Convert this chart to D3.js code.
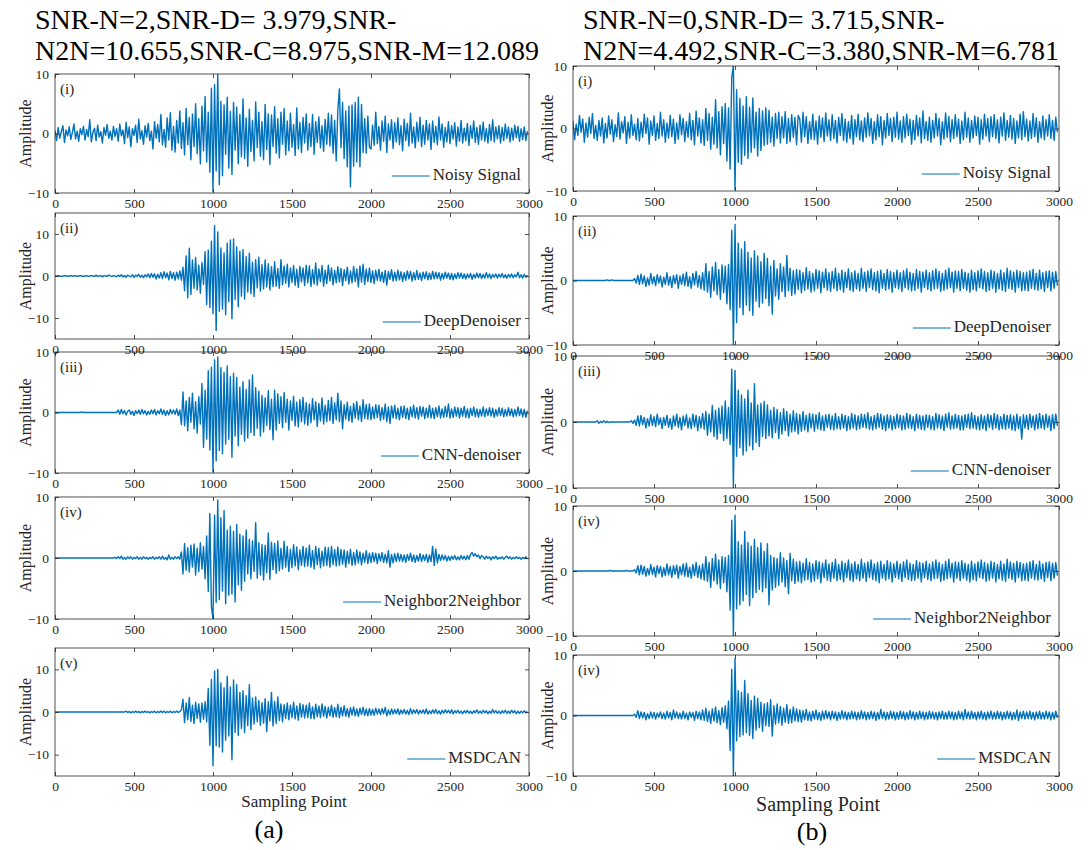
<!DOCTYPE html>
<html><head><meta charset="utf-8">
<script src="https://cdn.jsdelivr.net/npm/d3@7"></script>
<style>
body{margin:0;background:#fff}
svg{display:block}
text{font-family:"Liberation Serif","Times New Roman",serif;fill:#262626}
</style>
</head><body><svg id="c" width="1088" height="850"></svg>
<script>
// ---------------- DATA ----------------
const sampleStep = 10;
const xTicks = [0,500,1000,1500,2000,2500,3000];
const yTicks = [-10,0,10];
const titleA = ["SNR-N=2,SNR-D= 3.979,SNR-","N2N=10.655,SNR-C=8.975,SNR-M=12.089"];
const titleB = ["SNR-N=0,SNR-D= 3.715,SNR-","N2N=4.492,SNR-C=3.380,SNR-M=6.781"];
const panelLabelsA = ["(i)","(ii)","(iii)","(iv)","(v)"];
const panelLabelsB = ["(i)","(ii)","(iii)","(iv)","(iv)"];
const legendNames = ["Noisy Signal","DeepDenoiser","CNN-denoiser","Neighbor2Neighbor","MSDCAN"];
const yDomainsA = [[-10,10],[-15,15],[-10,10],[-10,10],[-15,15]];
const yDomainsB = [[-10,10],[-10,10],[-10,10],[-10,10],[-10,10]];
const xLabel = "Sampling Point";
const yLabel = "Amplitude";
const colLabels = ["(a)","(b)"];

const noisyA = [
0.5,-1.2,1,-0.8,0.3,1.3,-1.5,0.6,-0.4,1.1,-1,0.2,1.6,-0.9,0.4,-1.3,0.8,-0.2,1.2,-1.1,
0.7,-0.5,2.3,-1.4,0.2,0.9,-1.2,1.4,-0.6,0.3,-1.6,1,-0.3,1.5,-0.8,0.4,-1.1,1.2,-0.5,0.8,
-1.3,1.6,-0.4,0.6,-1.7,1.9,-0.7,1.1,-2.2,0.8,-0.3,1.4,-1.5,2.4,-0.9,0.5,-1.8,1.3,-0.6,1.7,
-1.2,0.4,-2.6,2,-0.8,1.5,-1.4,3.2,-1.9,0.7,-2.3,2.6,-1.1,3.5,-2.8,1.2,-3.1,2.2,-1.6,3.8,
-2.5,1.8,-3.6,4.2,-1.9,2.7,-4.4,3.3,-2.2,5,-3.4,2.5,-5.1,4.6,-2.9,6.2,-4.8,3.6,-6.5,7.6,
-9.8,8.2,-6.3,10,-8.6,5.4,-7.1,4.8,-3.5,6.1,-5.8,3.7,-6.9,5.2,-2.8,4.4,-5.1,3.2,-3.9,5.8,
-4.2,2.6,-5.5,4.1,-3,2.2,-4.6,5.3,-2.4,3.6,-3.8,2,-4.4,4.9,-2.7,3.3,-5.2,3.1,-2.2,4.5,
-3.3,2.5,-4.1,3.6,-1.8,4.2,-3.6,2.1,-2.9,3.4,-2.3,1.5,-3.7,4.3,-2.6,1.9,-3.2,2.7,-1.6,3.3,
-2.8,1.7,-2.2,3.2,-3.5,2,-1.5,2.8,-2.4,1.3,-3,2.4,-1.8,3.4,-2.1,3.1,-3.3,2.2,-4.6,3.9,
7.5,-2.4,5.2,-4.2,3.8,-5.6,4.6,-9,4.8,-5.5,5.2,-4.8,6.1,-5.6,4.9,-3.2,2.5,-3.3,2.9,-2.3,
-2.6,1.4,-2,3.6,-1.7,1.2,-2.8,2.1,-1.3,2.9,-3.2,1.6,-1.1,2.3,-2.5,1.8,-1.4,2.6,-1.9,1.3,
-2.9,2.4,-1.2,1.7,-2.1,3.4,-1.6,1.1,-2.4,1.9,-1.3,2.7,-2.2,1.4,-1.8,2.2,-1.1,1.6,-2.7,2.1,
-1.5,1.2,-1.9,2.8,-1.1,1.6,-2.3,1,-1.4,2,-1.7,1.3,-0.9,1.8,-2.1,1.1,-1.3,2.2,-1.6,0.9,
-1.2,1.7,-2,1.3,-0.8,2.1,-1.5,1,-1.8,1.4,-1.1,1.9,-1.3,0.8,-1.6,1.5,-1.2,2.3,-1.4,1.1,
-0.9,1.3,-1.6,1,-1.2,1.6,-0.8,1.1,-1.4,0.9,-1.1,1.4,-0.7,1.2,-1.3,0.8,-1,1.1,-1.2,0.4];

const deepA = [
0,0,0.1,0,-0.1,0,0.1,0,0,-0.1,0.1,0,0,0.1,-0.1,0,0.1,0,-0.1,0,
0.1,-0.1,0,0.1,0,-0.1,0.2,-0.1,0,0.1,-0.2,0.1,0,-0.1,0.2,0,-0.1,0.1,0,-0.2,
0.2,-0.1,0.3,-0.2,0.1,-0.3,0.2,0,-0.2,0.3,-0.3,0.2,-0.1,0.4,-0.3,0.2,-0.4,0.3,-0.2,0.5,
-0.4,0.6,-0.3,0.5,-0.7,0.4,-0.5,0.8,-0.6,1,-0.4,0.7,-0.9,1.1,-0.6,0.8,-1,0.9,-0.7,1.2,
-1,2.1,-3.5,4.8,-5.2,6.6,-4.4,3.8,-2.9,4.4,-3.3,2.6,-4.1,3.2,-2,5.8,-6.8,6.2,-7.5,8.3,
-9,12,-13,10.5,-8.4,6.7,-7.9,5.5,-9.2,7.8,-6.1,8.6,-10.2,8.8,-5.6,6.9,-7.3,5.9,-4.8,6.3,
-5.5,4.6,-3.8,5.4,-4.2,3.3,-4.9,3.9,-2.8,4.5,-3.6,2.7,-3.1,3.8,-2.6,2.9,-3.3,2.2,-2.5,3.4,
-2.4,1.8,-2.9,3.9,-2.1,2.4,-1.7,2.8,-2.6,1.9,-1.5,2.5,-2.2,1.6,-2.7,2.3,-1.4,1.9,-2.3,2.6,
-1.6,2.4,-2.5,1.5,-1.9,3.1,-2.2,1.7,-1.3,2.5,-2.4,1.4,-1.8,2.6,-1.2,1.9,-2.1,1.3,-1.6,2.2,
-1.4,1.8,-2.3,1.5,-1.1,2.1,-1.9,1.2,-1.6,2.3,-1.3,1.7,-2.6,2.4,-1.5,2.8,-2,1.6,-1.3,1.9,
-1.5,1.2,-1.8,1.4,-1,1.6,-1.2,0.9,-1.5,1.3,-2.2,1.1,-0.8,1.5,-1.2,0.9,-1.1,1.4,-0.9,1,
-1.3,0.8,-1,1.2,-0.7,1.1,-1.2,0.8,-0.9,1.3,-0.8,0.7,-1.1,0.9,-0.6,1,-0.9,0.7,-0.8,1.1,
-0.7,0.9,-0.6,0.8,-1,0.6,-0.7,0.9,-0.5,0.7,-0.8,0.6,-0.9,0.5,-0.6,0.8,-0.5,0.7,-0.6,0.5,
-0.7,0.5,-0.4,0.6,-0.8,0.4,-0.5,0.7,-0.4,0.6,-0.6,0.4,-0.5,0.8,-0.4,0.5,-0.6,0.4,-0.3,0.5,
-0.5,0.4,-0.3,0.6,-0.4,0.3,-0.5,0.4,-0.3,0.5,-0.4,0.3,-0.2,0.9,-0.4,0.3,-0.5,0.4,-0.3,0.2];

const cnnA = [
0,0,0,0,0,0,0,0,0,0,0,0,0,0,0,0,0,0.1,0,0,
0,0,0,0,0,0,0,0,0,0,0,0,0,0,0,0,0,0,0,0,
0.4,-0.3,0.5,-0.2,0.3,-0.4,0.2,0.4,-0.3,0.2,-0.5,0.3,-0.2,0.4,-0.3,0.5,-0.2,0.3,-0.4,0.2,
-0.3,0.4,-0.2,0.5,-0.4,0.3,-0.2,0.6,-0.3,0.4,-0.5,0.3,-0.4,0.5,-0.2,0.4,-0.3,0.6,-0.5,0.4,
-2,3.4,-2.2,1.9,-3,2.5,-1.6,3.2,-2.7,1.8,-3.4,2.6,-1.9,4.8,-5.8,3.7,-4.4,6.9,-6.2,7.5,
-9.8,8.7,-8,9.2,-6.3,7.4,-6.8,6.6,-5.2,7.7,-4.4,5.9,-7.4,6.5,-3.9,5.8,-5.5,4.2,-3.6,5.1,
-4.7,3.8,-4.2,5.4,-3.3,6.2,-3.8,4.1,-2.6,3.5,-3.9,2.8,-3.2,2.4,-2.1,3.6,-2.8,2.2,-4.5,3.7,
-2.9,3.1,-1.8,2.6,-2.5,3.3,-1.6,2.2,-2.9,1.9,-1.3,2.7,-2.2,1.7,-2.4,2.1,-1.5,2.5,-1.9,1.6,
-2.1,1.4,-1.7,2.3,-1.2,1.8,-2.3,1.5,-1.4,2.4,-1.9,1.2,-1.5,2,-1.3,2.5,-1.8,1.6,-1.2,3.2,
-1.5,1.9,-2.7,1.3,-1.1,1.7,-1.4,1,-1.6,1.5,-0.9,1.8,-1.2,1.1,-1.5,2.1,-1,1.3,-1.1,1.4,
-1.2,0.9,-1,1.3,-0.8,1.2,-1.3,0.8,-1.1,1.4,-1.5,0.9,-1.8,1.1,-0.9,1.2,-1,0.7,-1.2,1,
-0.8,1.1,-1,0.7,-1.2,0.9,-0.7,1.2,-0.9,0.8,-1.1,1,-0.6,0.9,-1,0.7,-0.8,1.2,-0.9,0.7,
-1,0.8,-0.7,1.1,-0.9,0.6,-0.8,1,-0.7,1.4,-0.9,0.6,-0.8,0.9,-0.6,0.8,-0.9,0.7,-0.6,1,
-0.8,0.6,-0.9,0.7,-0.5,0.9,-0.7,0.6,-0.8,0.5,-0.6,0.9,-0.7,0.6,-0.5,0.8,-0.6,0.7,-0.8,0.5,
-0.6,0.8,-0.5,0.7,-0.7,0.5,-0.6,0.8,-0.5,0.6,-0.7,0.5,-0.6,0.9,-0.5,0.6,-0.7,0.5,-0.8,0.3];

const n2nA = [
0,0,0,0,0,0,0,0,0,0,0,0,0,0,0,0,0,0,0,0,
0,0,0,0,0,0,0,0,0,0,0,0,0,0,0,0,0,0,0.1,-0.1,
0.2,-0.1,0.3,-0.2,0.1,-0.2,0.2,-0.1,0.2,-0.2,0.1,-0.1,0.2,-0.2,0.1,-0.2,0.2,-0.1,0.1,-0.2,
0.1,-0.1,0.2,-0.2,0.1,-0.1,0.2,-0.2,0.3,-0.2,0.1,-0.3,0.5,-0.2,0.1,-0.2,0.2,-0.1,0.2,-0.2,
1,-2.6,2.4,-2,1.7,-2.3,2.1,-1.5,2.3,-2.8,1.6,-2.2,2.5,-1.8,1.9,-3.4,3.6,-5.5,7.3,-8,
-10,7,-7.3,9.5,-6.8,6.6,-5.4,7.8,-7.5,4.6,-6.1,5.2,-5.9,4.4,-7.2,5.5,-4.4,3.9,-5.3,3.6,
-3.8,4.6,-2.6,3.1,-3.4,2.8,-2.2,5.8,-3.3,2.5,-2.8,2.2,-3.6,2.1,-2.4,4.1,-3.5,2.6,-1.9,2.4,
-2.5,2.8,-2.1,1.6,-1.8,2.7,-1.5,1.9,-2.2,1.4,-1.6,2.2,-1.3,1.8,-1.9,1.3,-1.2,1.9,-1.4,1.6,
-1.3,2.1,-1.5,1.2,-1.8,1.9,-1.1,1.6,-1.6,1.1,-1.3,1.8,-1.2,1.7,-1.5,1.9,-1.1,1.4,-1.3,1.8,
-1.2,1.4,-1,1.3,-1.5,1.1,-0.9,1.4,-1.2,0.9,-1.1,1.3,-0.8,1,-1.1,0.8,-0.7,1.2,-0.9,0.8,
-0.7,0.9,-0.6,0.8,-0.9,0.7,-0.5,0.9,-0.7,0.6,-0.8,1.2,-1.5,0.6,-0.8,0.7,-0.6,0.8,-0.5,0.6,
-0.6,0.5,-0.7,0.6,-0.4,0.8,-0.6,0.5,-0.7,0.4,-0.5,0.7,-0.6,0.5,-0.4,0.6,-0.7,0.5,-0.6,1.9,
-1.2,1.5,-0.8,0.6,-0.4,0.5,-0.3,0.4,-0.5,0.3,-0.4,0.3,-0.2,0.4,-0.3,0.2,-0.3,0.4,-0.2,0.3,
-0.3,0.4,-0.2,0.6,0.9,0.3,0.7,0.2,0.5,-0.1,0.4,0.2,-0.2,0.3,-0.1,0.2,-0.3,0.2,-0.1,0.3,
-0.2,0.1,-0.1,0.2,-0.2,0.1,0.3,-0.1,0.2,-0.2,0.1,-0.1,0.2,-0.1,0.1,-0.2,0.1,-0.1,0.2,-0.2];

const msdcanA = [
0,0,0,0,0,0,0,0,0,0,0,0,0,0,0,0,0,0,0,0,
0,0,0,0,0,0,0,0,0,0,0,0,0,0,0,0,0,0,0,0,
0,0,0,0,0,0.2,-0.1,0.1,-0.2,0.1,-0.1,0.2,-0.1,0.1,-0.2,0.1,-0.1,0.2,-0.1,0.1,
-0.2,0.1,-0.1,0.2,-0.2,0.1,-0.1,0.2,-0.1,0.2,-0.2,0.1,-0.1,0.2,-0.2,0.1,-0.1,0.2,-0.1,0.1,
0.5,3,-2.5,2.1,-1.8,3.4,-2.2,1.6,-2.7,2.3,-1.5,1.9,-2.4,2.1,-1.7,2.4,-2.3,5.5,-7.8,7.6,
-12.6,9.6,-7.9,10,-8.2,6.8,-9.4,5.7,-6.6,8.4,-5.6,5.9,-11.2,7.5,-4.8,6.4,-5.5,4.6,-3.9,5,
-4.8,3.8,-3.2,6.4,-4.1,3.3,-2.8,3.5,-2.3,2.7,-3.1,2.2,-2.6,3.1,-4.6,2.4,-2.1,4.6,-3.3,2.5,
-2.7,3.5,-2,1.9,-2.3,1.7,-1.5,2.1,-1.8,1.6,-1.3,2.3,-1.6,1.4,-1.9,2,-1.2,1.7,-1.4,1.6,
-1.3,2.1,-1.5,1.2,-1.6,1.8,-1.1,1.4,-1.3,1.9,-1,1.3,-1.4,1.1,-0.9,1.6,-1.2,1,-1.1,1.8,
-1.3,1.1,-0.9,1.5,-1,0.8,-1.2,1,-0.7,1.2,-0.9,0.7,-1,0.9,-0.6,1.1,-0.8,0.7,-0.9,0.8,
-0.7,0.6,-0.8,0.9,-0.5,0.7,-0.6,0.8,-0.4,1.1,-0.9,0.5,-0.6,0.7,-0.5,0.6,-0.4,0.7,-0.6,0.5,
-0.4,0.6,-0.5,0.4,-0.6,0.8,-0.4,0.5,-0.3,0.6,-0.5,0.4,-0.3,0.5,-0.4,0.7,-0.5,0.3,-0.4,0.5,
-0.3,0.6,-0.4,0.3,-0.5,0.4,-0.3,0.5,-0.2,0.4,-0.3,0.5,-0.4,0.3,-0.2,0.4,-0.3,0.2,-0.4,0.3,
-0.2,0.4,-0.3,0.2,-0.4,0.3,-0.2,0.5,-0.3,0.2,-0.3,0.4,-0.2,0.3,-0.4,0.2,-0.3,0.6,-0.2,0.3,
-0.3,0.2,-0.4,0.3,-0.2,0.4,-0.3,0.2,-0.3,0.4,-0.2,0.3,-0.4,0.2,-0.3,0.2,-0.2,0.3,-0.2,0.1];

const noisyB = [
1.2,-1.8,0.7,-1.1,2.1,-0.6,1.5,-2.2,0.9,-1.4,1.8,-0.8,2.4,-1.6,0.5,-1.9,1.3,-1.2,1.7,-2.3,
0.8,-1.5,2,-0.9,1.4,-2.1,0.6,-1.3,2.5,-1.7,1.1,-0.7,1.9,-2.4,1,-1.5,2.2,-1.1,0.7,-1.8,
1.6,-2,1,-1.4,2.3,-0.8,1.7,-2.5,1.2,-1.1,2,-1.9,0.8,-1.6,2.6,-1.2,1.4,-2.2,0.9,-1.5,
2.1,-1.3,1.5,-2.4,0.9,-1.7,2.2,-1,1.6,-2.1,1.1,-1.4,2.4,-1.8,1.3,-2.6,2.8,-1.2,1.7,-2.3,
1.4,-2.7,3.2,-1.9,2.4,-3.3,1.8,-2.5,4.6,-3.1,2.7,-4.2,3.5,-2.4,4,-5.2,3.3,-6.5,8.2,10,
-9.8,6.2,-5.4,4.8,-5.7,3.6,-4.3,5.1,-4.8,3.4,-3.8,4.9,-3.1,2.6,-4.4,3.2,-3.5,2.8,-2.7,3.3,
-2.5,2.9,-2.2,1.8,-2.8,2.4,-1.6,2.6,-2.3,1.9,-1.5,2.7,-2.4,1.6,-2.1,2.2,-1.4,1.8,-2.6,2.1,
1.5,-2.2,2.6,-1.3,1.9,-2.4,1.1,-1.7,2.3,-1.8,1.2,-2.5,2,-1.4,1.7,-2.1,2.5,-1.2,1.4,-1.9,
2.2,-1.6,1.3,-2.3,1.8,-1.1,2.4,-1.9,1.5,-2.2,1.1,-1.6,2.1,-2.5,1.4,-1.3,2.3,-1.8,1.2,-2.1,
1.7,-1.4,2.5,-1.2,1.6,-2.4,1.1,-1.8,2.2,-1.3,1.9,-2.6,1.3,-1.5,2.4,-1.1,1.6,-2.1,1.8,-1.4,
2.6,-1.7,1.2,-2.2,1.9,-1.5,2.3,-1.1,1.5,-2.5,1.3,-1.8,2.1,-1.2,1.7,-2.3,2.8,-1.6,1.1,-1.9,
1.8,-2.2,1.3,-1.5,2.4,-1.2,1.6,-2.6,1.1,-1.7,2.5,-1.4,1.9,-2.1,1.4,-1.6,2.2,-1.3,1.5,-2.4,
1.2,-1.8,2.6,-1.4,1.7,-2.2,1.3,-1.5,2,-1.1,1.8,-2.5,1.4,-1.7,2.3,-1.2,1.6,-2.1,1.9,-1.3,
2.2,-1.6,1.4,-2.3,1.8,-1.2,2.5,-1.9,1.3,-1.4,2.1,-1.7,1.6,-2.4,1.2,-1.5,2.3,-1.8,2.7,-1.3,
1.5,-2,1.2,-1.6,2.4,-1.3,1.7,-2.2,1.1,-1.5,2,-1.8,1.4,-1.2,2.2,-1.6,1.3,-1.9,1.8,-0.6];

const deepB = [
0,0,0,0,0,0,0,0,0,0,0,0,0,0,0,0,0,0,0,0,
0,0.1,0,0,0.1,0,0,0,0,0,0,0,0,0,0,0,0,0,0.3,-0.4,
0.8,-0.6,1,-0.5,0.7,-0.9,0.4,-0.7,1.1,-0.5,0.6,-0.8,0.9,-0.4,0.7,-1,0.5,-0.6,1.2,-0.7,
0.6,-1.1,0.8,-0.5,0.9,-1.2,0.7,-0.6,1,-0.8,1.3,-0.9,0.6,-1.2,1.1,-0.7,1.4,-1,0.8,-1.3,
1.2,-1.5,2.6,-1.8,1.4,-2.6,2.1,-1.6,2.8,-2.2,1.7,-2.9,2.4,-1.9,2.2,-3.6,2.5,-4.5,7.8,-10,
8.7,-6.5,5.8,-4.2,4.9,-5.3,6,-3.8,4.4,-4.7,3.5,-5.4,4.6,-3.2,3.8,-4.1,2.9,-3.5,4.2,-2.8,
3.4,-3.9,2.2,-5.2,3.1,-2.4,1.8,-2.9,2.6,-1.7,2.1,-2.5,3.9,-1.6,1.9,-2.3,1.5,-2.1,1.7,-1.4,
1.6,-1.9,1.2,-1.5,2,-1.3,1.4,-1.8,1.1,-1.6,1.7,-1.2,1.5,-1.9,1.3,-1.1,1.8,-1.5,1.2,-1.7,
1.4,-1.2,1.9,-1.6,1.1,-1.4,1.6,-1.8,1.3,-1.1,1.8,-1.5,1.2,-1.7,1.5,-1.3,1.1,-1.6,1.9,-1.2,
1.3,-1.7,1.5,-1.1,1.8,-1.4,1.2,-1.6,1.4,-1.9,1.6,-1.2,1.1,-1.5,1.7,-1.3,1.4,-1.8,1.2,-1.1,
1.6,-1.3,1.2,-1.7,1.5,-1.1,1.8,-1.4,1.3,-1.6,1.1,-1.5,1.7,-1.2,1.4,-1.8,1.3,-1.1,1.6,-1.4,
1.2,-1.6,1.5,-1.3,1.8,-1.2,1.4,-1.7,1.1,-1.5,1.6,-1.3,1.9,-1.1,1.3,-1.8,1.5,-1.2,1.4,-1.6,
1.7,-1.2,1.3,-1.5,1.1,-1.8,1.6,-1.4,1.2,-1.6,1.5,-1.1,1.8,-1.3,1.4,-1.7,1.2,-1.5,1.6,-1.2,
1.4,-1.8,1.1,-1.3,1.6,-1.5,1.2,-1.7,1.9,-1.2,1.5,-1.4,1.3,-1.8,1.6,-1.1,1.4,-1.6,1.2,-1.5,
1.3,-1.6,1.5,-1.2,1.7,-1.4,1.1,-1.5,1.6,-1.3,1.2,-1.7,1.4,-1.1,1.5,-1.6,1.3,-1.2,1.4,-0.8];

const cnnB = [
0,0,0,0,0,0,0,0,0,0,0,0,0,0,0,0.2,-0.2,0.1,-0.1,0.2,
-0.1,0.1,-0.1,0,0,0,0,0,0,0,0,0,0,0,0,0,0.2,-0.2,0.3,-0.5,
0.9,-0.6,1,-0.4,0.7,-0.9,0.5,-0.6,1.1,-0.5,0.8,-0.7,1.2,-0.4,0.6,-1,0.7,-0.5,1,-0.8,
0.5,-1.1,0.9,-0.6,1.2,-0.8,0.7,-1.2,0.9,-0.5,1.1,-0.9,0.6,-1,1.2,-0.7,1,-1.3,0.8,-0.9,
1.3,-1.1,1.6,-2,1.2,-1.5,2.5,-2.2,1.8,-2.6,2.1,-1.7,2.4,-2.8,3.2,-2.5,2.2,-3.4,8,-10,
7.8,-5.2,4.8,-3.9,4.1,-5,3.5,-4.4,4.8,-3.6,2.9,-4.2,5.8,-3.1,2.6,-3.7,2.8,-2.2,3.1,-2.5,
2.6,-2.1,1.8,-2.4,2.2,-1.6,1.9,-2.5,1.4,-1.8,2,-1.3,1.6,-2.1,1.2,-1.5,1.7,-1.4,1.3,-1.8,
1.1,-1.4,1.6,-1.2,1,-1.5,1.3,-0.9,1.2,-1.4,1.1,-1,1.4,-1.2,0.9,-1.3,1.1,-0.8,1.2,-1.1,
0.9,-1.2,1.3,-1,0.8,-1.1,1.2,-0.9,1,-1.3,0.8,-1.1,1.3,-0.9,1.1,-1.2,0.9,-1,1.2,-0.8,
1.1,-0.9,1.4,-1.1,0.8,-1.2,1,-1,1.3,-0.8,1.2,-1.1,0.9,-1.3,1.1,-0.9,1,-1.2,0.8,-1,
1.2,-0.8,1,-1.2,0.9,-1.1,1.3,-0.9,1.1,-1,0.8,-1.3,1.2,-0.9,1,-1.1,0.9,-1.2,1.1,-0.8,
1,-1.1,0.8,-1.2,1.3,-0.9,1.1,-1,0.9,-1.3,1.2,-0.8,1.4,-1.1,0.9,-1,1.2,-0.9,1,-1.2,
0.9,-1.2,1.1,-0.8,1.2,-1,1.4,-0.9,1,-1.1,0.8,-1.2,1.1,-1,0.9,-1.3,1.2,-0.8,1,-1.1,
1.3,-0.9,1.1,-1.2,0.8,-1,1.2,-1.1,1,-0.9,1.1,-1.2,0.9,-1.3,1.2,-1,0.8,-2.6,1.1,-0.9,
1,-1.1,1.2,-0.8,0.9,-1.2,1.1,-1,1.3,-0.9,1,-1.1,1.2,-0.8,0.9,-1.3,1.1,-1,1.2,-0.6];

const n2nB = [
0,0,0,0,0,0,0,0,0,0,0,0,0,0,0,0,0,0,0,0,
0,0,0,0.1,0,0,0,0,0,0,0,0,0,0.1,0,0,0,0,0.2,-0.3,
0.8,-0.6,0.9,-0.5,0.7,-0.8,0.4,-0.6,1,-0.5,0.6,-0.9,0.8,-0.4,0.7,-0.9,0.5,-0.7,1.1,-0.6,
0.7,-1,0.8,-0.5,0.9,-1.1,0.7,-0.6,1.1,-0.8,1.2,-0.9,0.6,-1.1,1,-0.7,1.3,-1,0.8,-1.2,
1.1,-1.4,2.2,-1.6,1.3,-2.5,1.9,-1.5,2.6,-2,1.7,-2.7,2.2,-1.8,2.1,-3.2,2.4,-6,7.8,-10,
8.6,-5.8,4.5,-5.2,4,-4.6,6.1,-3.6,4.4,-5.3,3.8,-4.1,4.9,-3.3,3.6,-2.8,4.3,-3.2,3,-2.6,
4.2,-5.2,2.4,-2.9,2.1,-2.5,1.9,-2.2,2.8,-1.7,2,-2.4,1.6,-3.5,2.7,-1.5,1.8,-1.9,1.4,-1.6,
1.5,-1.8,1.2,-1.4,1.9,-1.3,1.3,-1.7,1.1,-1.5,1.6,-1.2,1.4,-1.8,1.2,-1,1.7,-1.4,1.1,-1.6,
1.3,-1.1,1.8,-1.5,1,-1.3,1.5,-1.7,1.2,-1,1.7,-1.4,1.1,-1.6,1.4,-1.2,1,-1.5,1.8,-1.1,
1.2,-1.6,1.4,-1,1.7,-1.3,1.1,-1.5,1.3,-1.8,1.5,-1.1,1,-1.4,1.6,-1.2,1.3,-1.7,1.1,-1,
1.5,-1.2,1.1,-1.6,1.4,-1,1.7,-1.3,1.2,-1.5,1,-1.4,1.6,-1.1,1.3,-1.7,1.2,-1,1.5,-1.3,
1.1,-1.5,1.4,-1.2,1.7,-1.1,1.3,-1.6,1,-1.4,1.5,-1.2,1.8,-1,1.2,-1.7,1.4,-1.1,1.3,-1.5,
1.6,-1.1,1.2,-1.4,1,-1.7,1.5,-1.3,1.1,-1.5,1.4,-1,1.7,-1.2,1.3,-1.6,1.1,-1.4,1.5,-1.1,
1.3,-1.7,1,-1.2,1.5,-1.4,1.1,-1.6,1.8,-1.1,1.4,-1.3,1.2,-1.7,1.5,-1,1.3,-1.5,1.1,-1.4,
1.2,-1.5,1.4,-1.1,1.6,-1.3,1,-1.4,1.5,-1.2,1.1,-1.6,1.3,-1,1.4,-1.5,1.2,-1.1,1.3,-0.7];

const msdcanB = [
0,0,0,0,0,0,0,0,0,0,0,0,0,0,0,0,0,0,0,0,
0,0,0,0,0,0,0,0,0,0,0,0,0,0,0,0,0,0,0.2,-0.3,
0.8,-0.5,0.6,-0.4,0.5,-0.7,0.3,-0.5,0.6,-0.4,0.5,-0.6,0.4,-0.3,0.6,-0.5,0.4,-0.6,0.7,-0.4,
0.5,-0.7,0.9,-0.4,0.6,-0.5,0.4,-0.6,0.7,-0.5,0.4,-0.7,0.6,-0.3,0.5,-0.8,0.7,-0.5,0.6,-0.7,
0.9,-0.8,1.2,-1,0.7,-1.3,1.1,-0.9,1.4,-1.2,0.8,-1.5,1.3,-1.1,1.6,-2.2,2.4,-5.8,7.6,-10,
9.4,-4.2,4.1,-3.5,3.8,-3.2,5.8,-2.8,3.6,-3.3,2.5,-3.8,3.2,-2.4,2.8,-2,2.2,-2.6,1.9,-1.7,
2.1,-1.8,2.6,-3.4,1.6,-1.4,1.9,-1.2,1.5,-1.6,1.2,-1.1,1.8,-1.3,1,-1.2,1.4,-0.9,1.1,-1,
0.9,-1.1,0.8,-0.7,1,-0.8,0.6,-0.9,0.7,-0.6,0.9,-0.7,0.5,-0.8,0.7,-0.6,0.8,-0.5,0.6,-0.7,
0.7,-0.5,0.6,-0.8,0.5,-0.6,0.8,-0.5,0.6,-0.7,0.5,-0.6,0.7,-0.5,0.6,-0.7,0.5,-0.6,0.8,-0.5,
0.6,-0.7,0.5,-0.6,0.7,-0.5,0.6,-0.8,0.5,-0.6,1,-0.5,0.6,-0.7,0.5,-0.6,0.7,-0.5,0.6,-0.7,
0.5,-0.6,0.7,-0.5,0.6,-0.7,0.5,-0.6,0.8,-0.5,0.6,-0.7,0.5,-0.6,0.7,-0.5,0.6,-0.7,0.5,-0.6,
0.7,-0.5,0.6,-0.6,0.5,-0.7,0.6,-0.5,0.7,-0.6,0.5,-0.6,0.7,-0.5,0.6,-0.7,0.5,-0.6,0.7,-0.5,
0.6,-0.7,1,-0.5,0.6,-0.6,0.7,-0.5,0.5,-0.7,0.6,-0.5,0.7,-0.6,0.5,-0.7,0.6,-0.5,0.7,-0.6,
0.5,-0.6,0.7,-0.5,0.6,-0.7,0.5,-0.6,0.7,-0.5,0.6,-0.7,0.5,-0.6,0.9,-0.8,0.6,-0.5,0.7,-0.6,
0.6,-0.5,0.7,-0.6,0.5,-0.7,0.6,-0.5,0.7,-0.6,0.5,-0.6,0.7,-0.5,0.6,-0.7,0.5,-0.6,0.7,-0.4];

const seriesA = [noisyA, deepA, cnnA, n2nA, msdcanA];
const seriesB = [noisyB, deepB, cnnB, n2nB, msdcanB];

// ---------------- LAYOUT ----------------
const lineColor = "#0072BD";
const axisColor = "#262626";
const svg = d3.select("#c");

const columns = [
  {series: seriesA, doms: yDomainsA, labels: panelLabelsA, title: titleA, titleX: 35, titleFs: 28,
   x0: 55, x1: 529, rows: [[74,193],[213,339],[352,473],[497,619],[648,776]],
   tickFs: 13.5, ylabX: 27, xlabX: 294, xlabY: 807, xlabFs: 17, colLab: colLabels[0], colX: 269, colY: 838},
  {series: seriesB, doms: yDomainsB, labels: panelLabelsB, title: titleB, titleX: 583, titleFs: 28,
   x0: 573, x1: 1059, rows: [[66,191],[216,345],[356,488],[506,636],[655,776]],
   tickFs: 13.5, ylabX: 549, xlabX: 818, xlabY: 811, xlabFs: 20, colLab: colLabels[1], colX: 812, colY: 840}
];

columns.forEach((c, ci) => {
  c.title.forEach((t, k) => {
    svg.append("text").attr("x", c.titleX).attr("y", 29 + k*31)
      .style("font-size", c.titleFs + "px").style("fill", "#000").text(t);
  });

  c.rows.forEach((r, pi) => {
    const [top, bot] = r;
    const x = d3.scaleLinear().domain([0, 3000]).range([c.x0, c.x1]);
    const y = d3.scaleLinear().domain(c.doms[pi]).range([bot, top]);
    const g = svg.append("g");
    const clipId = "clip" + ci + "_" + pi;
    g.append("clipPath").attr("id", clipId).append("rect")
      .attr("x", c.x0).attr("y", top).attr("width", c.x1 - c.x0).attr("height", bot - top);

    const line = d3.line().x((d, j) => x(j * sampleStep)).y(d => y(d));
    g.append("path").datum(c.series[pi]).attr("clip-path", `url(#${clipId})`)
      .attr("d", line).attr("fill", "none").attr("stroke", lineColor)
      .attr("stroke-width", 1.4).attr("stroke-linejoin", "round");

    const styleAxis = sel => {
      sel.select(".domain").remove();
      sel.selectAll("line").attr("stroke", axisColor).attr("stroke-width", 0.8);
      sel.selectAll("text").style("font-size", c.tickFs + "px").style("font-family", '"Liberation Serif", serif').attr("fill", axisColor);
    };
    g.append("g").attr("transform", `translate(0,${bot})`)
      .call(d3.axisBottom(x).tickValues(xTicks).tickSizeInner(-4).tickSizeOuter(0).tickPadding(5).tickFormat(d3.format("d")))
      .call(styleAxis);
    g.append("g").attr("transform", `translate(0,${top})`)
      .call(d3.axisTop(x).tickValues(xTicks).tickSizeInner(-4).tickSizeOuter(0).tickFormat(""))
      .call(styleAxis);
    g.append("g").attr("transform", `translate(${c.x0},0)`)
      .call(d3.axisLeft(y).tickValues(yTicks).tickSizeInner(-4).tickSizeOuter(0).tickPadding(6))
      .call(styleAxis);
    g.append("g").attr("transform", `translate(${c.x1},0)`)
      .call(d3.axisRight(y).tickValues(yTicks).tickSizeInner(-4).tickSizeOuter(0).tickFormat(""))
      .call(styleAxis);
    g.append("rect").attr("x", c.x0).attr("y", top).attr("width", c.x1 - c.x0).attr("height", bot - top)
      .attr("fill", "none").attr("stroke", axisColor).attr("stroke-width", 0.8);

    g.append("text").attr("transform", `translate(${c.ylabX},${(top+bot)/2}) rotate(-90)`)
      .attr("text-anchor", "middle").attr("dominant-baseline", "middle")
      .style("font-size", "16px").text(yLabel);

    g.append("text").attr("x", c.x0 + 5).attr("y", top + 20).style("font-size", "15px").text(c.labels[pi]);

    const ly = bot - 17;
    const lt = g.append("text").attr("x", c.x1 - 8).attr("y", ly)
      .attr("text-anchor", "end").attr("dominant-baseline", "middle")
      .style("font-size", "17px").text(legendNames[pi]);
    const w = lt.node().getComputedTextLength();
    const lx = c.x1 - 8 - w - 3;
    g.append("line").attr("x1", lx - 38).attr("x2", lx).attr("y1", ly).attr("y2", ly)
      .attr("stroke", lineColor).attr("stroke-width", 1);
  });

  svg.append("text").attr("x", c.xlabX).attr("y", c.xlabY).attr("text-anchor", "middle")
    .style("font-size", c.xlabFs + "px").text(xLabel);
  svg.append("text").attr("x", c.colX).attr("y", c.colY).attr("text-anchor", "middle")
    .style("font-size", "26px").style("fill", "#000").text(c.colLab);
});
</script>
</body></html>
